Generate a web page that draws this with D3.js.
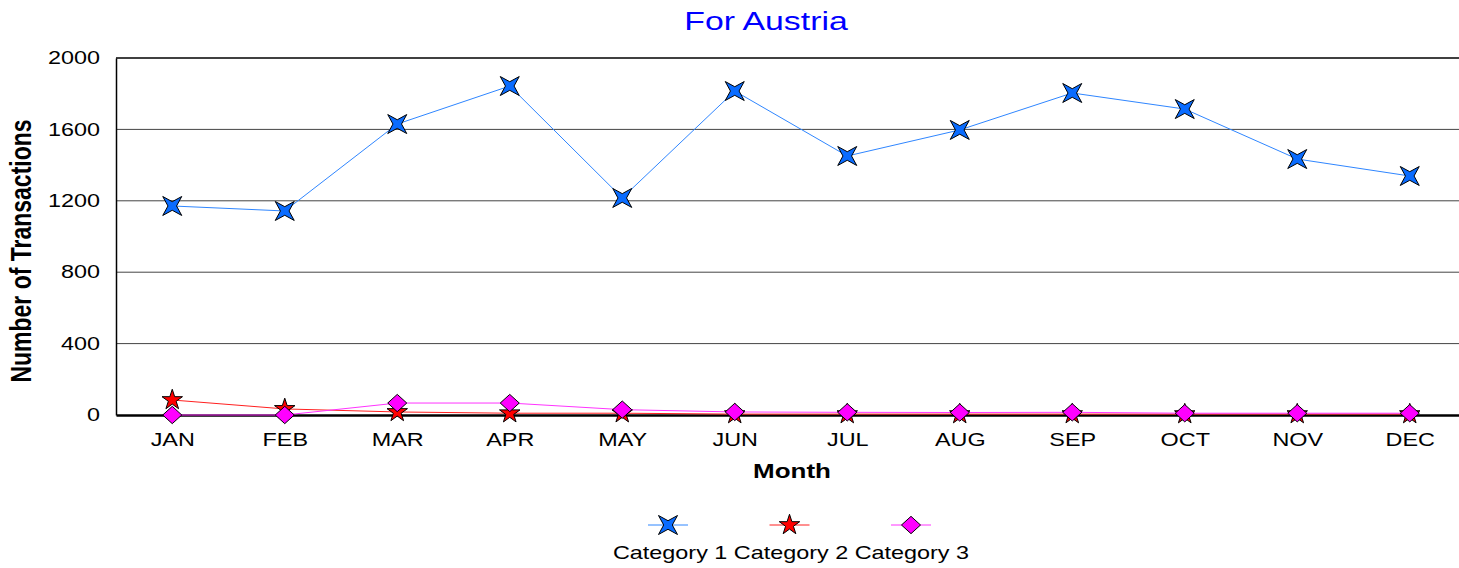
<!DOCTYPE html>
<html>
<head>
<meta charset="utf-8">
<script src="https://cdn.jsdelivr.net/npm/d3@7"></script>
<style>
  body { margin: 0; background: #fff; overflow: hidden; }
  text { font-family: Arial, "Liberation Sans", sans-serif; }
</style>
</head>
<body>
<div id="chart"></div>
<script>
// data
var months = ["JAN", "FEB", "MAR", "APR", "MAY", "JUN", "JUL", "AUG", "SEP", "OCT", "NOV", "DEC"];
var cat1 = [1171, 1143, 1630, 1843, 1216, 1815, 1451, 1597, 1804, 1714, 1434, 1339];
var cat2 = [84, 34, 17, 10, 10, 5, 5, 5, 5, 5, 5, 5];
var cat3 = [0, 0, 67, 67, 30, 17, 15, 14, 15, 10, 10, 10];
var yTicks = [0, 400, 800, 1200, 1600, 2000];
var seriesNames = ["Category 1", "Category 2", "Category 3"];

var width = 1459, height = 568;
var margin = {top: 58, right: -7, bottom: 153, left: 116};
var innerW = width - margin.left - margin.right;
var innerH = height - margin.top - margin.bottom;
var stretch = 1.3; // text in the original is wider than it is tall

var svg = d3.select("#chart").append("svg")
    .attr("width", width)
    .attr("height", height);

// symbols
var star4 = {
    draw: function (ctx, size) {
        var r = Math.sqrt(size) * 0.75, ri = r * 0.32;
        for (var i = 0; i < 8; i++) {
            var a = Math.PI / 4 + i * Math.PI / 4;
            var rr = i % 2 === 0 ? r : ri;
            var px = rr * Math.cos(a), py = rr * Math.sin(a);
            if (i === 0) ctx.moveTo(px, py); else ctx.lineTo(px, py);
        }
        ctx.closePath();
    }
};
var diamond = {
    draw: function (ctx, size) {
        var w = Math.sqrt(size) * 0.55, h = Math.sqrt(size) * 0.5;
        ctx.moveTo(0, -h); ctx.lineTo(w, 0); ctx.lineTo(0, h); ctx.lineTo(-w, 0);
        ctx.closePath();
    }
};

var series = [
    {name: seriesNames[0], values: cat1, color: "#0a6cff", line: "#2f86ff", sym: star4, size: 320},
    {name: seriesNames[1], values: cat2, color: "#ff0000", line: "#ff2020", sym: d3.symbolStar, size: 130},
    {name: seriesNames[2], values: cat3, color: "#ff00ff", line: "#ff33ff", sym: diamond, size: 300}
];

var x = d3.scalePoint()
    .domain(months)
    .range([0, innerW])
    .padding(0.5);

var y = d3.scaleLinear()
    .domain([0, 2000])
    .range([innerH, 0]);

var g = svg.append("g")
    .attr("transform", "translate(" + margin.left + "," + margin.top + ")");

// gridlines
g.selectAll(".grid")
    .data(yTicks.filter(d => d > 0))
    .enter()
    .append("line")
    .attr("x1", 0)
    .attr("x2", innerW)
    .attr("y1", d => y(d))
    .attr("y2", d => y(d))
    .attr("stroke", d => d === 2000 ? "#000" : "#444")
    .attr("stroke-width", d => d === 2000 ? 1.5 : 1);

// y axis
var yAxis = g.append("g")
    .call(d3.axisLeft(y).tickValues(yTicks).tickFormat(d3.format("d")).tickSize(0).tickPadding(0));
yAxis.select(".domain").attr("stroke", "#000").attr("stroke-width", 1.5);
yAxis.selectAll("text")
    .attr("font-size", 18)
    .attr("fill", "#000")
    .attr("x", -16 / stretch)
    .attr("transform", "scale(" + stretch + ",1)");

// x axis
var xAxis = g.append("g")
    .attr("transform", "translate(0," + innerH + ")")
    .call(d3.axisBottom(x).tickSize(0).tickPadding(18));
xAxis.select(".domain").attr("stroke", "#000").attr("stroke-width", 2.5);
xAxis.selectAll("text")
    .attr("font-size", 18)
    .attr("fill", "#000")
    .attr("transform", "scale(" + stretch + ",1)");

// lines and markers
var line = d3.line()
    .x((d, i) => x(months[i]))
    .y(d => y(d));

series.forEach(function (s) {
    g.append("path")
        .datum(s.values)
        .attr("fill", "none")
        .attr("stroke", s.line)
        .attr("stroke-width", 1)
        .attr("d", line);
});
series.forEach(function (s) {
    g.selectAll(null)
        .data(s.values)
        .enter()
        .append("path")
        .attr("transform", (d, i) => "translate(" + x(months[i]) + "," + y(d) + ")")
        .attr("d", d3.symbol().type(s.sym).size(s.size))
        .attr("fill", s.color)
        .attr("stroke", "#000")
        .attr("stroke-width", 1);
});

// stretched text helper
function label(tx, ty, txt, size, opts) {
    opts = opts || {};
    var t = svg.append("text")
        .attr("transform", "translate(" + tx + "," + ty + ") scale(" + stretch + ",1)" + (opts.rotate ? " rotate(" + opts.rotate + ")" : ""))
        .attr("text-anchor", "middle")
        .attr("font-size", size)
        .attr("fill", opts.fill || "#000")
        .text(txt);
    if (opts.bold) t.attr("font-weight", "bold");
    return t;
}

// title
label(766, 30, "For Austria", 26, {fill: "#0000ff"});

// axis titles
label(792, 478, "Month", 20, {bold: true});
label(31, 251, "Number of Transactions", 23, {bold: true, rotate: -90});

// legend
var legendX = d3.scalePoint()
    .domain(seriesNames)
    .range([668, 911]);

var legend = svg.selectAll(".legend")
    .data(series)
    .enter()
    .append("g")
    .attr("class", "legend")
    .attr("transform", d => "translate(" + legendX(d.name) + ",525)");

legend.append("line")
    .attr("x1", -20)
    .attr("x2", 20)
    .attr("stroke", d => d.line)
    .attr("stroke-width", 1);

legend.append("path")
    .attr("d", d => d3.symbol().type(d.sym).size(d.size)())
    .attr("fill", d => d.color)
    .attr("stroke", "#000")
    .attr("stroke-width", 1);

label(791, 559, seriesNames.join(" "), 18);
</script>
</body>
</html>
